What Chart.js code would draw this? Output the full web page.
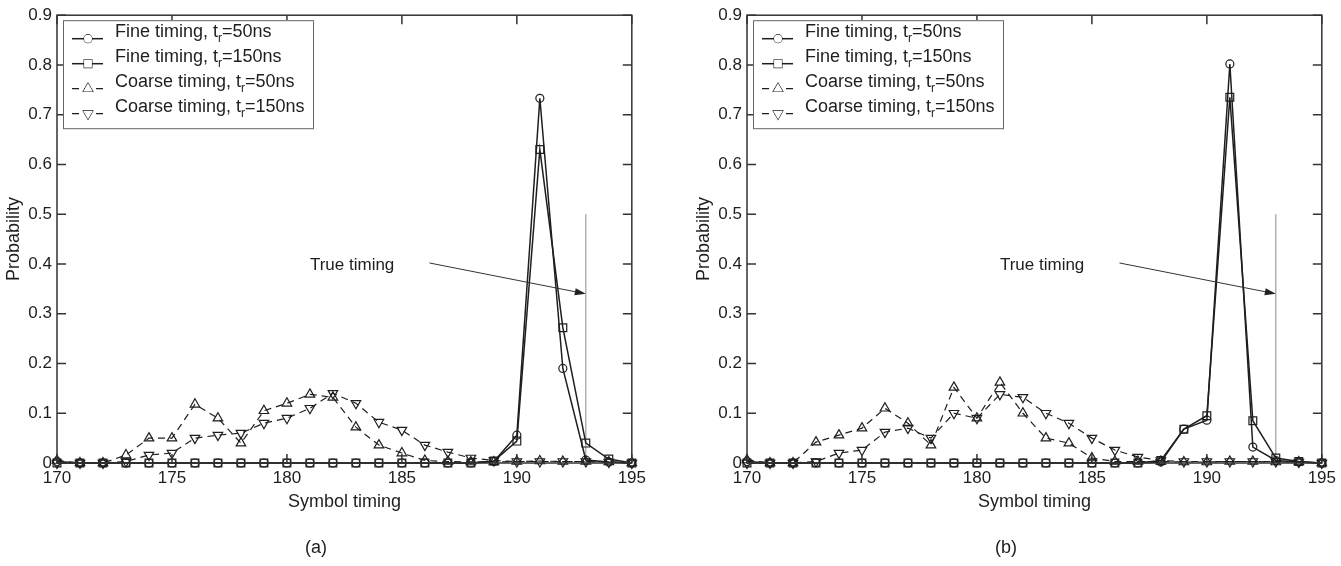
<!DOCTYPE html>
<html>
<head>
<meta charset="utf-8">
<script src="https://cdn.jsdelivr.net/npm/chart.js@4/dist/chart.umd.min.js"></script>
<style>
    body { margin: 0; background: #fff; }
    .panel { position: absolute; top: 0; }
</style>
</head>
<body>
<div class="panel" style="left:0"><canvas id="chartA" width="651" height="566"></canvas></div>
<div class="panel" style="left:690px"><canvas id="chartB" width="651" height="566"></canvas></div>
<script>
// Symbol timing positions (x axis)
var symbolTiming = [170, 171, 172, 173, 174, 175, 176, 177, 178, 179, 180, 181, 182,
                    183, 184, 185, 186, 187, 188, 189, 190, 191, 192, 193, 194, 195];

var seriesLabels = ['Fine timing, t_r=50ns', 'Fine timing, t_r=150ns',
                    'Coarse timing, t_r=50ns', 'Coarse timing, t_r=150ns'];

// Panel (a)
var fineA50 = [0.003, 0, 0, 0, 0, 0, 0, 0, 0, 0, 0, 0, 0,
               0, 0, 0, 0, 0, 0, 0.003, 0.056, 0.733, 0.19, 0.006, 0.002, 0];
var fineA150 = [0, 0, 0, 0, 0, 0, 0, 0, 0, 0, 0, 0, 0,
                0, 0, 0, 0, 0, 0, 0.004, 0.044, 0.63, 0.272, 0.04, 0.008, 0];
var coarseA50 = [0.005, 0, 0, 0.016, 0.05, 0.05, 0.118, 0.09, 0.04, 0.105, 0.12, 0.138, 0.132,
                 0.072, 0.036, 0.02, 0.005, 0.003, 0.002, 0.002, 0.003, 0.004, 0.003, 0.003, 0.002, 0];
var coarseA150 = [0, 0, 0, 0.003, 0.016, 0.02, 0.05, 0.056, 0.06, 0.08, 0.09, 0.11, 0.14,
                  0.12, 0.082, 0.066, 0.036, 0.022, 0.01, 0.005, 0.003, 0.003, 0.003, 0.003, 0.002, 0];

// Panel (b)
var fineB50 = [0.003, 0, 0, 0, 0, 0, 0, 0, 0, 0, 0, 0, 0,
               0, 0, 0, 0, 0, 0.002, 0.068, 0.086, 0.802, 0.032, 0.005, 0.002, 0];
var fineB150 = [0, 0, 0, 0, 0, 0, 0, 0, 0, 0, 0, 0, 0,
                0, 0, 0, 0, 0, 0.005, 0.068, 0.095, 0.735, 0.085, 0.01, 0.003, 0];
var coarseB50 = [0.006, 0, 0, 0.042, 0.056, 0.07, 0.11, 0.08, 0.036, 0.152, 0.09, 0.162, 0.1,
                 0.05, 0.04, 0.01, 0.003, 0.003, 0.003, 0.002, 0.002, 0.003, 0.003, 0.002, 0.002, 0];
var coarseB150 = [0, 0, 0, 0.003, 0.02, 0.026, 0.062, 0.07, 0.05, 0.1, 0.09, 0.138, 0.132,
                  0.1, 0.08, 0.05, 0.026, 0.012, 0.005, 0.003, 0.003, 0.003, 0.003, 0.003, 0.002, 0];

var xTickLabels = ['170', '175', '180', '185', '190', '195'];
var yTickLabels = ['0', '0.1', '0.2', '0.3', '0.4', '0.5', '0.6', '0.7', '0.8', '0.9'];

// "True timing" marker: vertical line, label and arrow (data units)
var trueTimingX = 193;
var trueTimingTop = 0.5;
var trueTimingText = [181, 0.398];
var arrowFrom = [186.2, 0.402];
var arrowTo = [193, 0.34];

var ink = '#1e1e1e';
Chart.defaults.font.family = '"Liberation Sans", Arial, Helvetica, sans-serif';
Chart.defaults.color = ink;

function toPoints(values) {
    var pts = [];
    for (var i = 0; i < symbolTiming.length; i++) {
        pts.push({ x: symbolTiming[i], y: values[i] });
    }
    return pts;
}

// Box around the plot with inward ticks on all four sides
var frameTicks = {
    id: 'frameTicks',
    afterDatasetsDraw: function(chart) {
        var ctx = chart.ctx, a = chart.chartArea;
        var xs = chart.scales.x, ys = chart.scales.y;
        ctx.save();
        ctx.strokeStyle = '#333';
        ctx.lineWidth = 1.5;
        ctx.strokeRect(a.left, a.top, a.right - a.left, a.bottom - a.top);
        ctx.beginPath();
        xs.ticks.forEach(function(t) {
            var px = xs.getPixelForValue(t.value);
            ctx.moveTo(px, a.bottom); ctx.lineTo(px, a.bottom - 9);
            ctx.moveTo(px, a.top); ctx.lineTo(px, a.top + 9);
        });
        ys.ticks.forEach(function(t) {
            var py = ys.getPixelForValue(t.value);
            ctx.moveTo(a.left, py); ctx.lineTo(a.left + 9, py);
            ctx.moveTo(a.right, py); ctx.lineTo(a.right - 9, py);
        });
        ctx.stroke();
        ctx.restore();
    }
};

// Arrow and "True timing" label
var trueTiming = {
    id: 'trueTiming',
    afterDatasetsDraw: function(chart) {
        var ctx = chart.ctx;
        var xs = chart.scales.x, ys = chart.scales.y;
        var x0 = xs.getPixelForValue(arrowFrom[0]), y0 = ys.getPixelForValue(arrowFrom[1]);
        var x1 = xs.getPixelForValue(arrowTo[0]), y1 = ys.getPixelForValue(arrowTo[1]);
        var ang = Math.atan2(y1 - y0, x1 - x0);
        ctx.save();
        ctx.strokeStyle = '#333';
        ctx.fillStyle = '#222';
        ctx.lineWidth = 1;
        ctx.beginPath();
        ctx.moveTo(x0, y0);
        ctx.lineTo(x1 - 9 * Math.cos(ang), y1 - 9 * Math.sin(ang));
        ctx.stroke();
        ctx.beginPath();
        ctx.moveTo(x1, y1);
        ctx.lineTo(x1 - 11 * Math.cos(ang) + 3.5 * Math.sin(ang), y1 - 11 * Math.sin(ang) - 3.5 * Math.cos(ang));
        ctx.lineTo(x1 - 11 * Math.cos(ang) - 3.5 * Math.sin(ang), y1 - 11 * Math.sin(ang) + 3.5 * Math.cos(ang));
        ctx.closePath();
        ctx.fill();
        ctx.font = '17px ' + Chart.defaults.font.family;
        ctx.fillStyle = ink;
        ctx.textAlign = 'left';
        ctx.textBaseline = 'middle';
        ctx.fillText('True timing', xs.getPixelForValue(trueTimingText[0]), ys.getPixelForValue(trueTimingText[1]));
        ctx.restore();
    }
};

// Legend box with subscripted t_r
var boxLegend = {
    id: 'boxLegend',
    afterDraw: function(chart) {
        var ctx = chart.ctx, a = chart.chartArea;
        var left = a.left + 6, top = a.top + 5;
        var fam = Chart.defaults.font.family;
        ctx.save();
        ctx.fillStyle = '#fff';
        ctx.fillRect(left, top, 250, 108);
        ctx.strokeStyle = '#666';
        ctx.lineWidth = 1;
        ctx.strokeRect(left + 0.5, top + 0.5, 250, 108);
        for (var i = 0; i < 4; i++) {
            var ds = chart.data.datasets[i];
            var base = top + 17 + i * 25;
            var ly = base + 1.5;
            ctx.strokeStyle = ds.borderColor;
            ctx.lineWidth = ds.borderWidth;
            ctx.setLineDash(ds.borderDash || []);
            ctx.beginPath();
            ctx.moveTo(left + 9, ly);
            ctx.lineTo(left + 40, ly);
            ctx.stroke();
            ctx.setLineDash([]);
            ctx.lineWidth = 1.2;
            ctx.fillStyle = '#fff';
            Chart.helpers.drawPoint(ctx, {
                pointStyle: ds.pointStyle,
                radius: ds.pointRadius,
                rotation: ds.rotation || 0,
                borderWidth: 1.2
            }, left + 25, ly);
            ctx.fill();
            // label text with subscript r
            var parts = seriesLabels[i].split('_r');
            var tx = left + 52;
            ctx.fillStyle = ink;
            ctx.textAlign = 'left';
            ctx.textBaseline = 'alphabetic';
            ctx.font = '18px ' + fam;
            ctx.fillText(parts[0], tx, base);
            tx += ctx.measureText(parts[0]).width;
            ctx.font = '12px ' + fam;
            ctx.fillText('r', tx, base + 5);
            tx += ctx.measureText('r').width;
            ctx.font = '18px ' + fam;
            ctx.fillText(parts[1], tx, base);
        }
        ctx.restore();
    }
};

function seriesDataset(values, style, dashed, radius, rotation) {
    return {
        data: toPoints(values),
        borderColor: ink,
        backgroundColor: 'rgba(255,255,255,0)',
        borderWidth: dashed ? 1.2 : 1.5,
        borderDash: dashed ? [7, 5] : [],
        pointStyle: style,
        pointRadius: radius,
        pointBorderWidth: 1.2,
        pointBorderColor: ink,
        rotation: rotation,
        tension: 0,
        clip: false
    };
}

function makeChart(canvasId, fine50, fine150, coarse50, coarse150, panelLabel) {
    var ctx = document.getElementById(canvasId).getContext('2d');
    return new Chart(ctx, {
        type: 'line',
        data: {
            datasets: [
                seriesDataset(fine50, 'circle', false, 4, 0),
                seriesDataset(fine150, 'rect', false, 5.5, 0),
                seriesDataset(coarse50, 'triangle', true, 5.5, 0),
                seriesDataset(coarse150, 'triangle', true, 5.5, 180),
                {
                    data: [{ x: trueTimingX, y: 0 }, { x: trueTimingX, y: trueTimingTop }],
                    borderColor: '#8a8a8a',
                    borderWidth: 1,
                    pointRadius: 0
                }
            ]
        },
        options: {
            responsive: false,
            animation: false,
            layout: { padding: { left: 0, right: 19, top: 10, bottom: 0 } },
            plugins: {
                legend: { display: false },
                tooltip: { enabled: false },
                title: {
                    display: true,
                    position: 'bottom',
                    text: panelLabel,
                    font: { size: 18, weight: 'normal' },
                    color: ink,
                    padding: { top: 0, bottom: 7 }
                }
            },
            scales: {
                x: {
                    type: 'linear',
                    min: 170,
                    max: 195,
                    grid: { display: false, drawTicks: false },
                    border: { display: false },
                    ticks: {
                        stepSize: 5,
                        padding: 5,
                        maxRotation: 0,
                        autoSkip: false,
                        font: { size: 17 },
                        callback: function(value, index) { return xTickLabels[index]; }
                    },
                    title: {
                        display: true,
                        text: 'Symbol timing',
                        font: { size: 18 },
                        padding: { top: 0, bottom: 25 }
                    },
                    afterFit: function(scale) { scale.height = 74.4; }
                },
                y: {
                    min: 0,
                    max: 0.9,
                    grid: { display: false, drawTicks: false },
                    border: { display: false },
                    ticks: {
                        stepSize: 0.1,
                        padding: 5,
                        font: { size: 17 },
                        callback: function(value, index) { return yTickLabels[index]; }
                    },
                    title: {
                        display: true,
                        text: 'Probability',
                        font: { size: 18 },
                        padding: { top: 3, bottom: 0 }
                    },
                    afterFit: function(scale) { scale.width = 57; }
                }
            }
        },
        plugins: [frameTicks, trueTiming, boxLegend]
    });
}

makeChart('chartA', fineA50, fineA150, coarseA50, coarseA150, '(a)');
makeChart('chartB', fineB50, fineB150, coarseB50, coarseB150, '(b)');
</script>
</body>
</html>
